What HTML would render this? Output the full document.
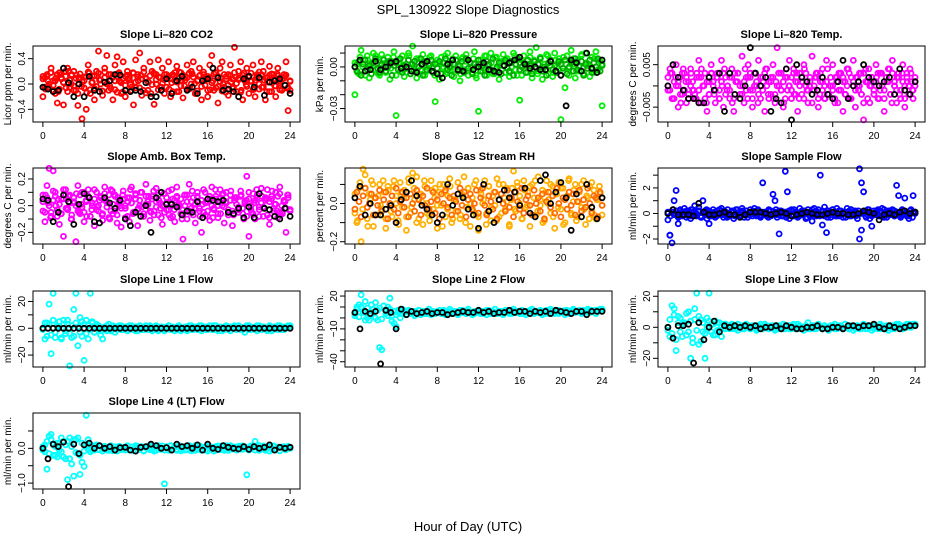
<!DOCTYPE html>
<html><head><meta charset="utf-8"><style>
html,body{margin:0;padding:0;background:#fff;}
svg{display:block;font-family:"Liberation Sans",sans-serif;}
</style></head><body>
<svg id="chart" width="936" height="540" viewBox="0 0 936 540" xmlns="http://www.w3.org/2000/svg">
<text x="468" y="14" text-anchor="middle" font-size="13">SPL_130922  Slope Diagnostics</text>
<text x="468" y="531" text-anchor="middle" font-size="13">Hour of Day (UTC)</text>
</svg>
<script>
// x-axis ticks (hour of day)
const xTicks = [0,4,8,12,16,20,24];
// colored series A/B sampled every 0.2 h, C every 0.25 h, black series every 0.5 h
const stepA = 0.2, stepC = 0.25, stepK = 0.5;

const co2A = [-20,10,15,-5,25,5,-15,-30,18,8,-33,12,25,-5,15,20,-10,-34,10,-55,5,-40,30,-15,12,-25,20,52,0,-18,25,45,-10,15,-25,30,43,5,-15,35,-20,20,10,-5,-33,38,15,49,-18,25,8,-10,35,20,-32,15,38,-5,25,-15,10,35,-20,15,5,28,-12,18,-22,10,30,-8,20,35,-15,5,25,-25,15,10,-20,30,45,-10,18,-30,25,35,-5,12,-18,30,8,58,-12,20,35,-25,10,25,-15,5,30,-20,15,-8,35,20,-25,10,28,-12,15,-20,25,5,-10,15,35,-42,-10];
const co2B = [8,-5,12,0,18,-10,5,15,-8,10,2,20,-12,6,14,-3,9,-15,16,4,-6,11,19,-9,3,13,-4,17,7,-11,10,0,15,-7,12,5,-13,18,2,9,-2,14,6,-10,17,3,11,-6,8,19,-14,4,13,-1,16,7,-9,10,1,15,-5,12,8,-12,18,3,9,-3,14,6,-8,17,0,11,-15,5,13,-4,19,7,-10,10,2,16,-6,12,4,-11,15,8,-2,13,-7,18,1,9,-13,14,5,-4,11,17,-9,6,12,0,15,-5,10,3,-12,16,7,-3,13,2,-8,9,14,-6,4];
const co2C = [12,-8,5,18,-2,9,-12,15,3,-6,20,0,-10,14,7,-4,11,-14,17,2,-7,13,6,-11,19,1,-3,10,-9,16,4,-13,12,8,-1,18,-6,5,14,-10,9,3,-15,17,0,11,-5,7,15,-8,2,13,-12,19,6,-3,10,-7,16,1,-11,14,8,-2,12,-9,5,18,-4,9,0,-13,15,3,-6,11,7,-10,17,-1,13,4,-8,10,19,-5,6,-12,14,2,-3,16,-9,8,12,-7,5];
const co2K = [-5,-8,-12,-10,25,2,-20,0,-20,12,-10,-12,3,5,15,14,-10,-12,-10,-12,2,-20,-20,-10,8,-15,5,12,-10,-5,-15,5,8,25,10,-10,-8,-12,-20,8,12,-5,10,-18,3,5,8,-2,-15];

const presA = [-20,2,-5,12,5,-3,8,-8,3,10,-2,6,-6,9,0,-4,7,-9,4,11,-35,5,-3,8,-7,2,10,-5,15,1,-8,6,-2,9,-6,4,-1,8,-4,-25,3,-9,7,0,-5,10,-3,5,-7,8,1,-10,6,-2,9,-6,3,-4,11,-8,-32,5,-3,8,-6,2,10,-5,7,-1,-9,4,9,-4,6,-7,3,10,-2,5,-24,-6,8,1,-4,11,-8,5,14,-3,7,-9,2,9,-5,4,-7,10,0,6,-38,-3,-15,8,-6,12,2,-8,5,-3,9,-5,10,1,-7,7,-4,11,-2,4,-28];
const presB = [0,-3,4,-6,2,5,-2,1,-5,3,6,-1,-4,2,5,-3,0,4,-6,1,3,-2,6,-4,1,-1,5,-5,2,4,-3,0,6,-6,3,-2,1,5,-4,2,-1,4,-5,3,6,-2,0,-6,2,5,-3,1,4,-4,6,-1,3,-5,2,0,5,-3,1,-6,4,2,-2,6,-4,0,3,-5,1,5,-1,-3,4,-6,2,6,-2,0,3,-4,5,1,-5,4,-1,2,6,-3,0,-6,3,5,-2,1,-4,4,2,-1,5,-5,0,3,-3,6,-2,1,4,-6,2,-1,5,-4,3,0,6,-3,1];
const presC = [3,-4,7,0,-6,5,2,-2,8,-5,1,6,-3,4,-1,7,-6,3,0,5,-4,8,2,-2,6,-5,1,4,-3,7,0,-6,5,3,-1,8,-4,2,6,-2,1,-5,7,4,-3,0,6,-6,2,5,-1,8,-3,3,-5,7,1,-2,4,6,-4,0,8,-6,3,5,-1,2,7,-3,4,-5,6,0,-2,8,1,-4,5,3,-6,7,2,-1,4,6,-3,0,8,-5,3,1,-2,6,-4,5,2];
const presK = [0,5,-3,-2,4,-2,0,3,4,-1,0,-3,-4,2,4,-3,-5,-8,2,5,-2,-3,5,-2,0,3,-2,-3,-4,1,3,5,7,2,-1,0,-2,-2,4,-3,-6,-28,5,3,-3,10,-1,-4,5];

const tempA = [0,4,-3,1,5,-5,2,-2,3,-4,1,4,-1,-3,2,6,-4,0,3,-6,-2,5,1,-4,3,-1,6,-5,2,0,-3,4,-6,1,3,-2,7,-4,2,5,-1,-5,3,0,6,-3,2,-6,4,1,-2,5,-4,9,0,3,-5,2,-1,6,-3,4,1,-6,3,-2,5,0,-4,2,7,-1,3,-5,1,4,-3,6,-2,0,5,-4,2,-1,3,-6,1,4,-3,2,6,-5,0,3,-2,-8,4,1,-4,2,-1,5,-3,3,0,-6,2,4,-2,6,1,-4,3,-1,5,-5,2,0,3,-3,1];
const tempB = [2,-1,3,-3,0,1,-2,3,-1,2,-3,0,1,-2,3,-1,2,0,-3,1,-2,3,0,-1,2,-3,1,3,-2,0,-1,2,-3,1,3,0,-2,1,-1,2,3,-3,0,1,-2,2,-1,3,0,-3,1,2,-2,0,3,-1,1,-3,2,0,-1,3,-2,1,0,2,-3,3,-1,1,-2,0,2,-3,3,-1,0,1,-2,2,0,-3,1,3,-1,2,-2,0,3,-3,1,-1,2,0,-2,3,1,-3,0,2,-2,1,3,-1,0,-3,2,1,-2,3,0,-1,2,-3,1,0,3,-2,1,-1,0];
const tempC = [-1,3,-3,2,0,-4,4,1,-2,3,-1,-3,2,4,0,-4,1,3,-2,2,-3,0,4,-1,2,-4,3,1,-2,0,4,-3,2,-1,3,-4,0,1,4,-2,2,-3,1,3,-1,-4,4,0,2,-2,3,-3,1,4,-1,0,-4,2,3,-2,1,-3,4,0,-1,2,-4,3,1,-2,4,-3,0,2,-1,3,-4,1,4,0,-2,2,-3,3,-1,1,4,-4,0,2,-2,3,-3,1,4,-1,2];
const tempK = [0,5,2,-1,-3,-3,-4,-4,2,-1,3,-6,3,-2,-3,0,9,3,0,2,-6,-3,-4,4,-8,5,2,1,-2,-1,2,-2,-3,1,6,-3,0,1,5,2,1,0,1,2,-2,4,-1,-2,1];

const ambA = [8,-12,15,28,-5,26,10,-8,-14,5,-23,12,-3,8,-10,2,-27,15,-6,10,-12,4,12,-8,0,-15,10,-4,7,-11,14,3,-9,12,-6,8,-13,2,-16,11,-2,6,-12,14,-5,9,-15,0,10,-8,16,3,-11,7,-4,13,-7,2,-14,9,-3,11,-9,5,-12,14,1,-6,-25,8,-10,16,-2,6,-13,10,-4,-20,12,-7,3,-11,14,-2,7,-9,12,0,-13,10,-5,8,-15,4,6,-3,11,-6,2,22,-23,-3,9,-10,6,-1,13,-8,4,12,-14,7,-2,10,-9,14,-5,3,-20,8,-4];
const ambB = [3,-5,6,0,-8,4,7,-3,1,-6,5,8,-2,2,-7,6,0,-4,8,-1,-5,3,7,-8,2,5,-3,0,6,-6,4,-1,8,-4,1,7,-7,3,-2,5,0,-8,6,2,-5,8,-3,4,-1,-6,7,1,-4,5,-7,3,8,-2,0,-5,6,-3,2,-8,4,7,-1,5,-6,0,8,-4,3,-7,1,6,-2,4,-5,2,-8,7,0,-3,5,-6,3,8,-1,2,-7,4,-4,6,1,-5,7,-2,3,-8,5,0,-6,4,8,-3,2,-1,6,-7,3,5,-4,1,7,-5,0,4,-2,6,-3];
const ambC = [-4,8,2,-9,11,0,5,-6,12,-2,7,-10,3,9,-5,1,10,-8,6,-3,12,-1,4,-7,9,2,-10,11,-4,6,0,8,-9,3,12,-6,5,-2,10,-8,1,7,-5,11,-1,4,-9,9,2,-7,12,-3,6,0,-10,8,3,-5,11,-2,7,-8,1,10,-4,5,-9,12,0,-6,9,3,-3,11,-7,6,-1,8,-10,4,10,-5,2,12,-8,7,-2,5,-9,11,1,-4,9,-6,3,8,-3];
const ambK = [5,4,-12,-5,8,3,-14,1,9,6,-12,-13,6,2,-2,4,-10,-15,-5,-8,0,-20,6,10,1,1,-1,-7,-4,-5,3,-9,5,4,3,4,-5,-6,-2,-9,-1,-9,9,-2,-3,-8,-10,-2,-8];

const rhA = [-5,-10,8,-20,18,15,-8,5,12,-12,3,-6,10,-3,6,-13,9,0,-7,12,4,-9,11,-2,7,-14,13,-5,16,2,14,-8,5,-11,9,0,-6,12,-3,8,-13,6,-1,10,-7,4,13,-10,2,-4,11,-8,5,14,-2,8,-12,3,10,-6,-14,7,0,12,-5,9,-9,4,-1,13,-7,5,10,-3,8,-11,2,17,-4,9,0,-8,12,-2,6,-12,10,3,-6,14,-1,7,-9,12,2,-5,9,-13,5,11,-3,8,-10,4,13,-6,1,10,-7,6,-2,12,-11,3,9,-4,7,-8,2,5,-6];
const rhB = [-3,6,1,-7,4,8,-2,0,5,-6,3,-1,7,-4,2,6,-8,0,4,-3,8,-5,1,6,-2,3,-7,5,0,-4,7,2,-6,4,-1,8,-3,1,6,-5,2,-8,5,0,7,-2,3,-6,4,1,-4,8,-1,6,-7,2,5,-3,0,7,-5,3,8,-1,-6,4,1,-3,6,-8,2,5,0,-4,7,-2,3,-7,6,1,-3,8,-5,2,4,-1,-6,7,0,3,-4,5,-8,1,6,-2,4,-5,8,0,-7,3,2,-3,6,-1,5,-6,1,7,-4,2,-2,8,0,-5,4,3,-7,6,-1];
const rhC = [5,-9,11,-3,8,-12,2,10,-6,4,-1,12,-8,7,-4,9,0,-11,6,3,-7,11,-2,8,-10,5,1,12,-5,-9,7,3,-1,10,-12,6,-3,9,-8,2,11,-6,4,-10,8,0,-4,12,-7,5,2,-11,9,-2,6,-9,10,-5,3,1,-12,8,-3,11,4,-8,7,-1,9,-6,12,-4,2,-10,6,0,10,-7,5,-2,8,-11,3,12,-5,7,-9,1,10,-3,4,-8,11,-6,2,9,-1];
const rhK = [3,9,-6,0,-6,-6,-3,-1,-10,2,6,12,4,-1,-3,-6,-10,-6,10,-1,5,3,-3,-6,-13,10,-4,-10,2,7,3,6,-1,8,-5,-7,12,15,0,6,11,3,-14,5,-7,10,-2,-8,3];

const sampA = [-5,-17,-23,10,18,-8,3,-2,4,-3,2,-4,3,6,-2,5,-3,10,2,-4,-8,-2,3,-3,2,-1,4,-3,1,3,-2,2,-4,3,0,-2,4,-3,2,-1,3,-2,4,-1,2,-3,24,1,-2,3,-1,15,10,-3,-16,2,-2,33,17,-4,3,-2,1,-3,4,-1,2,-4,3,-1,-6,4,-2,3,30,-9,5,-15,2,-3,3,-1,4,-2,2,-3,1,4,-2,3,-1,2,-4,35,24,17,-2,3,-4,-10,2,-1,3,-2,4,-3,1,2,-1,3,-2,22,14,-3,2,12,-2,-4,3,14,1];
const sampB = [0,-17,1,-1,2,-2,0,1,-1,2,0,-2,1,0,-1,2,-2,1,0,-1,2,0,-2,1,-1,0,2,-1,1,-2,0,1,2,-1,0,-2,1,-1,2,0,-1,1,0,-2,2,-1,1,0,-1,2,-2,0,1,-1,2,0,-2,1,-1,0,2,-1,1,-2,0,2,-1,1,0,-2,1,-1,2,0,-1,1,-2,2,0,-1,1,0,-2,2,-1,1,0,-1,2,-2,0,1,-1,-20,-13,0,2,-1,1,-2,0,1,-1,2,-2,0,1,-1,2,0,-2,1,-1,0,2,-1,1,-2,0,1,0];
const sampC = [1,-2,3,0,-3,2,-1,1,-2,3,-1,0,2,-3,1,3,-2,0,1,-2,3,-1,2,-3,0,1,-2,3,-1,2,0,-3,1,2,-1,3,-2,0,1,-3,2,-1,3,0,-2,1,-3,2,-1,3,0,-2,1,2,-3,0,3,-1,1,-2,2,0,-3,1,3,-2,-1,2,0,-3,1,3,-1,-2,2,0,1,-3,3,-1,0,2,-2,1,3,-3,0,-1,2,1,-2,3,0,-1,2,-3,1];
const sampK = [0,3,-1,-1,-1,-2,8,1,-1,-1,0,1,-1,-1,-3,-1,1,1,1,0,-1,0,1,0,-2,-1,0,1,0,-1,-1,0,1,0,0,-1,-1,0,2,1,0,-5,-1,0,-1,1,2,0,1];

const l1A = [-1,-8,4,18,-19,26,-7,2,5,-8,6,-4,3,-28,-7,14,26,-13,8,-6,-24,6,-8,26,5,-3,3,2,-5,-8,1,-2,3,-1,2,-3,1,2,-1,0,1,-2,2,0,-1,1,-2,2,0,-1,2,-1,1,-2,0,2,-1,1,0,-2,1,2,-1,0,-2,1,2,-1,0,1,-2,2,-1,0,1,-1,2,-2,0,1,-1,2,0,-1,2,-2,1,0,-1,2,1,-2,0,1,-1,2,-1,0,-3,1,2,-1,0,1,-2,2,-1,1,0,-1,2,-2,1,0,-1,2,1,-1,0,2,1];
const l1B = [0,4,-6,3,-5,6,-3,1,5,-7,3,-2,6,-4,2,-6,4,1,-3,5,3,-4,2,-1,4,-3,1,2,-2,0,-1,2,0,-2,1,0,-1,1,2,-1,0,1,-1,2,0,-2,1,0,-1,1,0,-1,2,0,-1,1,-2,0,1,-1,0,2,-1,1,0,-1,1,-2,0,1,-1,0,2,-1,0,1,-1,2,0,-1,1,0,-1,2,-1,0,1,-2,1,0,-1,1,0,2,-1,0,1,-1,0,2,-1,1,0,-1,2,0,-1,1,0,-2,1,0,-1,1,2,0,-1,1,0,1,2];
const l1K = [0,0,0,0,0,0,0,0,0,0,0,0,0,0,0,0,0,0,0,0,0,0,0,0,0,0,0,0,0,0,0,0,0,0,0,0,0,0,0,0,0,0,0,0,0,0,0,0,0];

const l2A = [2,10,12,21,5,15,0,-2,3,8,14,-2,-27,-29,11,6,10,18,2,-5,-8,5,0,8,6,3,7,4,6,2,5,7,3,6,4,5,8,3,6,4,5,7,4,6,3,5,8,4,6,5,3,7,5,6,4,8,5,3,6,5,7,4,6,5,3,7,5,6,8,4,5,6,3,7,5,4,6,8,5,6,4,7,5,3,6,5,8,4,6,5,7,3,6,5,4,8,6,5,7,4,6,5,3,7,6,4,8,5,6,7,4,5,6,8,5,7,6,4,7,8,7];
const l2B = [4,8,1,10,6,-2,9,3,12,5,0,7,9,-1,11,4,2,8,-3,6,3,7,4,6,5,3,6,5,4,6,5,7,4,5,6,4,5,6,5,4,6,5,4,7,5,4,6,5,5,6,4,5,7,5,4,6,5,5,4,6,5,6,4,5,7,5,4,6,5,5,6,4,5,6,7,5,4,6,5,6,5,4,6,5,6,7,5,4,6,5,5,6,4,7,5,6,5,4,6,7,5,6,7,5,4,6,7,5,6,6,5,7,6,5,7,6,6,7,6,7,8];
const l2K = [5,-10,6,4,6,-42,7,5,-10,8,3,6,4,5,6,4,5,5,3,4,5,6,5,5,7,5,6,4,5,5,7,5,6,6,4,6,5,6,4,7,6,5,4,6,6,3,6,6,6];

const l3A = [-2,-6,14,12,-15,7,-3,2,3,-5,10,-20,-10,12,22,-11,5,-3,-20,0,22,2,-5,4,-2,3,-6,2,-1,1,0,2,-1,1,-2,0,1,-1,2,0,-1,1,0,-2,1,0,-1,2,0,-1,1,0,-2,1,-1,0,2,-1,0,1,-1,2,0,-1,1,0,-2,1,3,-1,0,1,-1,2,0,-1,1,0,-2,1,0,2,-1,0,1,-1,2,0,-1,1,-2,0,1,-1,0,2,-1,1,0,-2,1,0,-1,2,0,-1,1,-2,0,1,-1,2,0,1,-1,0,2,1,0,2,1];
const l3B = [0,5,-4,8,-8,3,6,-6,2,9,-3,4,-7,5,-2,7,-9,3,-4,6,4,-3,2,-5,3,-2,1,-1,2,0,-1,1,0,-1,2,0,-1,1,0,1,-1,0,1,-1,0,2,-1,0,1,-1,0,1,-1,0,1,0,-1,1,0,-1,1,0,-1,2,0,-1,0,1,-1,0,1,-1,0,1,0,-1,1,0,-1,0,1,-1,0,1,0,-1,2,0,-1,1,0,-1,1,0,-1,0,1,-1,1,0,-1,1,0,-1,1,0,-1,0,1,-1,0,1,2,0,-1,1,0,2,1,1,2];
const l3K = [0,-7,1,1,2,-23,3,-8,0,4,-3,1,0,1,0,1,0,1,-1,0,0,1,-1,1,0,-1,-1,0,0,1,-1,-1,0,0,-1,1,1,0,1,1,2,0,-1,1,0,-1,0,1,1];

const l4A = [-5,10,-60,35,40,-20,5,-25,15,-10,20,-30,-90,30,-45,-80,25,-15,-75,-40,-52,95,25,-10,8,-5,10,-3,6,-8,5,0,-6,7,-2,4,-8,6,-4,3,-2,8,-5,4,-7,2,6,-3,5,-8,3,-1,7,-4,2,-6,8,-2,0,-102,5,-4,7,-1,3,-6,8,-2,4,-5,6,0,-7,3,8,-3,5,-6,2,4,-8,6,-1,3,-5,7,-2,4,-6,8,0,-3,5,3,-4,6,-2,7,2,-76,-5,3,8,20,4,-6,2,7,-3,5,-8,1,6,-2,4,-7,3,5,-1,2,0];
const l4B = [5,-10,20,-15,25,10,-20,15,-5,30,-25,10,20,-30,5,25,-12,30,-20,15,-8,5,-3,8,-6,2,7,-4,5,-2,6,-5,3,8,-7,4,-1,6,-3,2,-5,7,-2,4,-6,8,0,-3,5,-7,3,6,-4,2,-8,5,1,-3,7,-5,2,-6,8,-1,4,-3,6,-7,2,5,-4,8,-2,3,-6,1,7,-3,4,-5,6,-2,3,-8,5,0,-4,7,-1,3,-6,8,-2,4,-5,2,6,-3,5,-1,-4,7,2,-5,3,8,-2,4,-6,1,5,-3,7,-1,3,-7,4,2,-4,6,3];
const l4K = [0,-30,12,5,18,-110,12,-15,10,15,0,8,0,5,-5,2,3,-5,-8,3,5,12,8,0,2,-5,12,5,8,0,10,-5,12,0,-3,8,3,0,-2,5,-3,5,0,3,10,-5,3,0,3];

const panels = [
 {name:'co2',title:'Slope Li\u2013820 CO2',ylab:'Licor ppm per min.',col:0,row:0,ymin:-0.6,ymax:0.6,scale:0.01,ticks:[-0.4,0,0.4],labels:['\u22120.4','0.0','0.4'],A:co2A,B:co2B,C:co2C,K:co2K,cA:'#ff0000',cB:'#ff0000'},
 {name:'pressure',title:'Slope Li\u2013820 Pressure',ylab:'kPa per min.',col:1,row:0,ymin:-0.0397,ymax:0.0151,scale:0.001,ticks:[-0.03,-0.02,-0.01,0,0.01],labels:['\u22120.03','','','0.00',''],A:presA,B:presB,C:presC,K:presK,cA:'#00ee00',cB:'#00a800'},
 {name:'li820-temp',title:'Slope Li\u2013820 Temp.',ylab:'degrees C per min.',col:2,row:0,ymin:-0.0085,ymax:0.0094,scale:0.001,ticks:[-0.005,0,0.005],labels:['\u22120.005','','0.005'],A:tempA,B:tempB,C:tempC,K:tempK,cA:'#ff00ff',cB:'#ff00ff'},
 {name:'amb-box-temp',title:'Slope Amb. Box Temp.',ylab:'degrees C per min.',col:0,row:1,ymin:-0.287,ymax:0.282,scale:0.01,ticks:[-0.2,-0.1,0,0.1,0.2],labels:['\u22120.2','','0.0','','0.2'],A:ambA,B:ambB,C:ambC,K:ambK,cA:'#ff00ff',cB:'#ff00ff'},
 {name:'gas-stream-rh',title:'Slope Gas Stream RH',ylab:'percent per min.',col:1,row:1,ymin:-0.212,ymax:0.186,scale:0.01,ticks:[-0.2,-0.1,0,0.1],labels:['\u22120.2','','0.0',''],A:rhA,B:rhB,C:rhC,K:rhK,cA:'#ffb000',cB:'#ff6a00'},
 {name:'sample-flow',title:'Slope Sample Flow',ylab:'ml/min per min.',col:2,row:1,ymin:-2.39,ymax:3.56,scale:0.1,ticks:[-2,-1,0,1,2,3],labels:['\u22122','','0','','2',''],A:sampA,B:sampB,C:sampC,K:sampK,cA:'#0000ff',cB:'#0000ff'},
 {name:'line1-flow',title:'Slope Line 1 Flow',ylab:'ml/min per min.',col:0,row:2,ymin:-28.9,ymax:27.8,scale:1,ticks:[-20,-10,0,10,20],labels:['\u221220','','0','','20'],A:l1A,B:l1B,C:[],K:l1K,cA:'#00ffff',cB:'#00ffff'},
 {name:'line2-flow',title:'Slope Line 2 Flow',ylab:'ml/min per min.',col:1,row:2,ymin:-44.8,ymax:24.6,scale:1,ticks:[-40,-30,-20,-10,0,10,20],labels:['\u221240','','','\u221210','','','20'],A:l2A,B:l2B,C:[],K:l2K,cA:'#00ffff',cB:'#00ffff'},
 {name:'line3-flow',title:'Slope Line 3 Flow',ylab:'ml/min per min.',col:2,row:2,ymin:-25.6,ymax:23.4,scale:1,ticks:[-20,-10,0,10,20],labels:['\u221220','','0','','20'],A:l3A,B:l3B,C:[],K:l3K,cA:'#00ffff',cB:'#00ffff'},
 {name:'line4-flow',title:'Slope Line 4 (LT) Flow',ylab:'ml/min per min.',col:0,row:3,ymin:-1.17,ymax:1.017,scale:0.01,ticks:[-1,-0.5,0,0.5],labels:['\u22121.0','','0.0',''],A:l4A,B:l4B,C:[],K:l4K,cA:'#00ffff',cB:'#00ffff'}
];

const colX = [33,345,658], rowY = [46,168,291,413], W = 267, H = 76;
const NS = 'http://www.w3.org/2000/svg';
const svg = document.getElementById('chart');
function mk(tag, attrs, parent){ const e=document.createElementNS(NS,tag); for(const k in attrs) e.setAttribute(k,attrs[k]); (parent||svg).appendChild(e); return e; }

panels.forEach(p => {
  const x0 = colX[p.col], y0 = rowY[p.row];
  const xs = h => x0 + (h + 0.96) / 25.92 * W;
  const ys = v => y0 + (p.ymax - v) / (p.ymax - p.ymin) * H;
  const g = mk('g', {});
  
  
  const t = mk('text', {x: x0 + W/2, y: y0 - 8, 'text-anchor':'middle','font-size':'11','font-weight':'bold'}, g);
  t.textContent = p.title;
  
  
  const pts = mk('g', {fill:'none','stroke-width':'1.8'}, g);
  
  
  [[p.A,p.cA,stepA],[p.C,p.cA,stepC],[p.B,p.cB,stepA],[p.K,'#000000',stepK]].forEach(([arr,color,step]) => {
    arr.forEach((v,i) => {
      const c = mk('circle', {cx: xs(i*step).toFixed(1), cy: ys(v*p.scale).toFixed(1), r: 2.5, stroke: color}, pts);
      
      
    });
  });
  const box = mk('rect', {x:x0, y:y0, width:W, height:H, fill:'none', stroke:'#000','stroke-width':'1'}, g);
  
  
  const xa = mk('g', {}, g);
  
  
  mk('line', {x1:xs(0), x2:xs(24), y1:y0+H, y2:y0+H, stroke:'#000'}, xa);
  xTicks.forEach(tk => {
    mk('line', {x1:xs(tk), x2:xs(tk), y1:y0+H, y2:y0+H+5, stroke:'#000'}, xa);
    const lt = mk('text', {x:xs(tk), y:y0+H+17, 'text-anchor':'middle','font-size':'10'}, xa);
    lt.textContent = tk;
    
    
  });
  const ya = mk('g', {}, g);
  
  
  mk('line', {x1:x0, x2:x0, y1:ys(p.ticks[0]), y2:ys(p.ticks[p.ticks.length-1]), stroke:'#000'}, ya);
  p.ticks.forEach((tk,i) => {
    const yy = ys(tk);
    mk('line', {x1:x0-5, x2:x0, y1:yy, y2:yy, stroke:'#000'}, ya);
    if (p.labels[i]) {
      const lt = mk('text', {x:0, y:0, 'text-anchor':'middle','font-size':'10', transform:`translate(${x0-8},${yy}) rotate(-90)`}, ya);
      lt.textContent = p.labels[i];
      
      
    }
  });
  const yl = mk('text', {x:0, y:0, 'text-anchor':'middle','font-size':'10', transform:`translate(${x0-22},${y0+H/2}) rotate(-90)`}, g);
  yl.textContent = p.ylab;
  
  
});
</script>
</body></html>
